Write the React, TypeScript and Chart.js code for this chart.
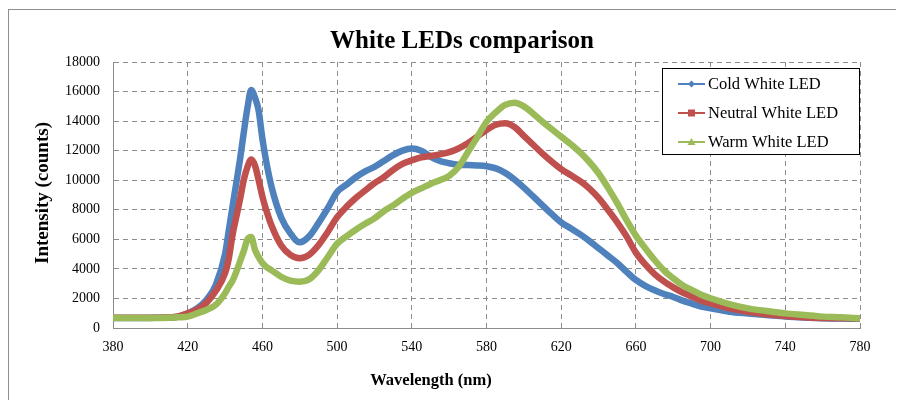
import React, { useEffect, useRef } from "react";
import { Chart, registerables } from "chart.js";

Chart.register(...registerables);

// Wavelength sample points (nm); finer steps around the blue emission peak
const wavelengths = [
  380, 385, 390, 395, 400, 405, 410, 415, 420, 425, 430, 435, 440,
  442, 444, 446, 448, 450, 452, 454, 456, 458, 460, 462,
  465, 470, 475, 480, 485, 490, 495, 500, 505, 510, 515, 520, 525, 530, 535, 540,
  545, 550, 555, 560, 565, 570, 575, 580, 585, 590, 595, 600, 605, 610, 615, 620,
  625, 630, 635, 640, 645, 650, 655, 660, 665, 670, 675, 680, 685, 690, 695, 700,
  710, 720, 730, 740, 750, 760, 770, 780,
];

// Spectrometer counts for each LED
const coldWhite = [
  680, 680, 680, 680, 680, 690, 700, 770, 990, 1330, 1900, 2900, 5000,
  6600, 8200, 9800, 11400, 13200, 14900, 16100, 15600, 14700, 12800, 11300,
  9500, 7500, 6400, 5800, 6200, 7100, 8100, 9200, 9700, 10200, 10600, 10900, 11300, 11700, 12000, 12150,
  12000, 11600, 11300, 11150, 11050, 11030, 11000, 10950, 10800, 10500, 10050, 9500, 8900, 8300, 7700, 7150,
  6750, 6350, 5900, 5400, 4900, 4400, 3800, 3250, 2850, 2550, 2300, 2100, 1850, 1650, 1450, 1330,
  1100, 980, 880, 780, 710, 660, 640, 620,
];

const neutralWhite = [
  700, 700, 700, 700, 700, 700, 710, 780, 990, 1250, 1700, 2500, 3700,
  4700, 6300, 7500, 8700, 10000, 10900, 11400, 11000, 10000, 8900, 8000,
  6900, 5600, 4950, 4720, 4950, 5600, 6500, 7500, 8200, 8800, 9300, 9800, 10200, 10700, 11100, 11350,
  11550, 11640, 11750, 11900, 12150, 12500, 12950, 13400, 13750, 13850, 13600, 13000, 12400, 11800, 11250, 10750,
  10350, 9950, 9450, 8800, 8000, 7150, 6200, 5100, 4300, 3650, 3150, 2750, 2400, 2120, 1850, 1670,
  1330, 1100, 930, 810, 720, 680, 660, 650,
];

const warmWhite = [
  680, 680, 680, 680, 680, 680, 690, 720, 770, 990, 1220, 1560, 2350,
  2800, 3200, 3800, 4500, 5200, 6000, 6150, 5300, 4800, 4400, 4150,
  3900, 3470, 3200, 3130, 3290, 3900, 4800, 5700, 6200, 6650, 7050, 7420, 7900, 8300, 8750, 9150,
  9450, 9750, 10000, 10300, 10900, 11900, 12900, 13950, 14600, 15100, 15250, 15000, 14500, 13960, 13450, 12950,
  12450, 11900, 11250, 10470, 9500, 8450, 7300, 6250, 5400, 4600, 3900, 3360, 2900, 2570, 2250, 2010,
  1620, 1330, 1150, 990, 880, 770, 720, 660,
];

const seriesNames = ["Cold White LED", "Neutral White LED", "Warm White LED"];
const seriesColors = ["#4F81BD", "#C0504D", "#9BBB59"];
const seriesMarkers = ["diamond", "square", "triangle"];

const xTickValues = [380, 420, 460, 500, 540, 580, 620, 660, 700, 740, 780];
const yTickValues = [0, 2000, 4000, 6000, 8000, 10000, 12000, 14000, 16000, 18000];

const chartTitle = "White LEDs comparison";
const xAxisTitle = "Wavelength (nm)";
const yAxisTitle = "Intensity (counts)";

const SERIF = '"Liberation Serif", "Times New Roman", serif';
const GRID = "#8c8c8c";

function drawMarker(ctx: CanvasRenderingContext2D, kind: string, x: number, y: number, color: string) {
  ctx.fillStyle = color;
  ctx.beginPath();
  if (kind === "diamond") {
    ctx.moveTo(x, y - 3.5);
    ctx.lineTo(x + 3.5, y);
    ctx.lineTo(x, y + 3.5);
    ctx.lineTo(x - 3.5, y);
  } else if (kind === "square") {
    ctx.rect(x - 3.5, y - 3.5, 7, 7);
  } else {
    ctx.moveTo(x, y - 4);
    ctx.lineTo(x + 4, y + 3);
    ctx.lineTo(x - 4, y + 3);
  }
  ctx.closePath();
  ctx.fill();
}

// Titles and the boxed legend inside the plot area
const decorations = {
  id: "decorations",
  afterDraw(chart: any) {
    const ctx: CanvasRenderingContext2D = chart.ctx;
    ctx.save();
    ctx.fillStyle = "#000";
    ctx.textAlign = "center";
    ctx.textBaseline = "alphabetic";
    ctx.font = `bold 25px ${SERIF}`;
    ctx.fillText(chartTitle, 453, 38);

    ctx.textBaseline = "middle";
    ctx.font = `bold 16.5px ${SERIF}`;
    ctx.fillText(xAxisTitle, 422, 371);

    ctx.save();
    ctx.translate(34, 183);
    ctx.rotate(-Math.PI / 2);
    ctx.font = `bold 19px ${SERIF}`;
    ctx.fillText(yAxisTitle, 0, 0);
    ctx.restore();

    // legend
    const bx = 653.5, by = 58.5, bw = 197, bh = 86;
    ctx.fillStyle = "#fff";
    ctx.fillRect(bx, by, bw, bh);
    ctx.strokeStyle = "#000";
    ctx.lineWidth = 1;
    ctx.strokeRect(bx, by, bw, bh);

    const rows = [74, 103, 132];
    ctx.textAlign = "left";
    ctx.font = `16.5px ${SERIF}`;
    seriesNames.forEach((name, i) => {
      const y = rows[i];
      ctx.strokeStyle = seriesColors[i];
      ctx.lineWidth = 2;
      ctx.beginPath();
      ctx.moveTo(669, y);
      ctx.lineTo(696, y);
      ctx.stroke();
      drawMarker(ctx, seriesMarkers[i], 682.5, y, seriesColors[i]);
      ctx.fillStyle = "#000";
      ctx.fillText(name, 699, y + 1);
    });
    ctx.restore();
  },
};

export default function App() {
  const canvasRef = useRef<HTMLCanvasElement | null>(null);

  useEffect(() => {
    if (!canvasRef.current) return;
    const series = [coldWhite, neutralWhite, warmWhite];
    const chart = new Chart(canvasRef.current, {
      type: "line",
      data: {
        datasets: series.map((values, i) => ({
          label: seriesNames[i],
          data: wavelengths.map((w, j) => ({ x: w, y: values[j] })),
          borderColor: seriesColors[i],
          backgroundColor: seriesColors[i],
          borderWidth: 6.5,
          pointRadius: 0,
          cubicInterpolationMode: "monotone" as const,
          fill: false,
          order: 3 - i,
        })),
      },
      options: {
        responsive: false,
        animation: false,
        devicePixelRatio: 1,
        layout: { padding: { top: 52, right: 44, left: 0, bottom: 0 } },
        plugins: {
          legend: { display: false },
          tooltip: { enabled: false },
          title: { display: false },
        },
        scales: {
          x: {
            type: "linear",
            min: 380,
            max: 780,
            afterBuildTicks: (scale: any) => {
              scale.ticks = xTickValues.map((v) => ({ value: v }));
            },
            ticks: {
              color: "#000",
              font: { family: SERIF, size: 14 },
              padding: 11,
              maxRotation: 0,
              autoSkip: false,
              callback: (v: any) => String(v),
            },
            grid: { color: GRID, lineWidth: 1, drawTicks: false },
            border: { color: GRID, width: 1, dash: [5, 4] },
            afterFit: (scale: any) => {
              scale.height = 72;
            },
          },
          y: {
            type: "linear",
            min: 0,
            max: 18000,
            afterBuildTicks: (scale: any) => {
              scale.ticks = yTickValues.map((v) => ({ value: v }));
            },
            ticks: {
              color: "#000",
              font: { family: SERIF, size: 14 },
              padding: 13,
              autoSkip: false,
              callback: (v: any) => String(v),
            },
            grid: { color: GRID, lineWidth: 1, drawTicks: false },
            border: { color: GRID, width: 1, dash: [5, 4] },
            afterFit: (scale: any) => {
              scale.width = 104;
            },
          },
        },
      },
      plugins: [decorations],
    });
    return () => chart.destroy();
  }, []);

  return (
    <div
      style={{
        position: "relative",
        top: 1,
        borderLeft: "1px solid #8e8e8e",
        borderTop: "1px solid #8e8e8e",
        width: 895,
        height: 391,
      }}
    >
      <canvas ref={canvasRef} width={895} height={390} style={{ display: "block", width: 895, height: 390 }} />
    </div>
  );
}
